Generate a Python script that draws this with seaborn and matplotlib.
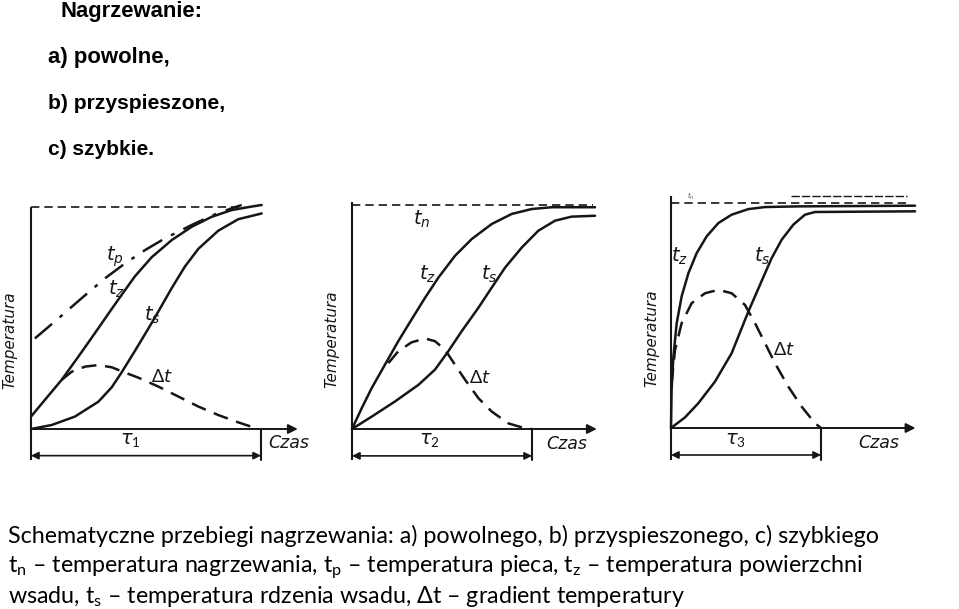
import numpy as np
import matplotlib
matplotlib.use("Agg")
import matplotlib.pyplot as plt
import seaborn as sns

sns.set_style("white")
plt.rcParams["font.family"] = ["Lato", "DejaVu Sans"]
plt.rcParams["mathtext.fontset"] = "custom"
plt.rcParams["mathtext.rm"] = "Lato"
plt.rcParams["mathtext.it"] = "DejaVu Sans:italic"

W, H = 959, 609
INK = "#161616"

# --- dane (x w jednostkach tau, y w jednostkach t_n) ---
# a) nagrzewanie powolne
a_tp_x = [0.017, 0.119, 0.220, 0.322, 0.409, 0.496, 0.583, 0.699, 0.786, 0.872, 0.916]
a_tp_y = [0.408, 0.498, 0.589, 0.679, 0.746, 0.806, 0.859, 0.919, 0.961, 0.994, 1.009]
a_tz_x = [0.0, 0.061, 0.133, 0.206, 0.278, 0.351, 0.394, 0.452, 0.525, 0.612, 0.699,
          0.786, 0.872, 0.959, 1.003]
a_tz_y = [0.056, 0.132, 0.221, 0.326, 0.432, 0.541, 0.604, 0.688, 0.774, 0.851, 0.911,
          0.956, 0.986, 1.002, 1.009]
a_ts_x = [0.0, 0.090, 0.191, 0.293, 0.351, 0.394, 0.452, 0.510, 0.554, 0.612, 0.670,
          0.728, 0.814, 0.901, 1.003]
a_ts_y = [0.0, 0.018, 0.056, 0.123, 0.188, 0.255, 0.352, 0.452, 0.530, 0.635, 0.733,
          0.812, 0.893, 0.945, 0.971]
a_dt_x = [0.133, 0.177, 0.235, 0.293, 0.351, 0.394, 0.467, 0.554, 0.641, 0.728, 0.814,
          0.901, 0.988]
a_dt_y = [0.221, 0.258, 0.281, 0.288, 0.278, 0.260, 0.231, 0.191, 0.146, 0.101, 0.063,
          0.030, 0.0]

# b) nagrzewanie przyspieszone
b_tz_x = [0.0, 0.054, 0.109, 0.183, 0.257, 0.331, 0.406, 0.480, 0.572, 0.665, 0.776,
          0.887, 0.998, 1.109, 1.350]
b_tz_y = [0.0, 0.093, 0.182, 0.287, 0.392, 0.489, 0.586, 0.676, 0.773, 0.848, 0.915,
          0.960, 0.982, 0.990, 0.990]
b_ts_x = [0.0, 0.109, 0.239, 0.369, 0.461, 0.535, 0.609, 0.702, 0.776, 0.850, 0.943,
          1.035, 1.128, 1.220, 1.350]
b_ts_y = [0.0, 0.055, 0.123, 0.197, 0.265, 0.347, 0.436, 0.541, 0.631, 0.720, 0.810,
          0.885, 0.930, 0.948, 0.952]
b_dt_x = [0.202, 0.257, 0.331, 0.406, 0.461, 0.517, 0.572, 0.628, 0.702, 0.776, 0.869,
          0.961, 1.0]
b_dt_y = [0.294, 0.347, 0.387, 0.404, 0.392, 0.354, 0.287, 0.220, 0.138, 0.078, 0.025,
          0.003, 0.0]

# c) nagrzewanie szybkie
c_tz_x = [0.0, 0.004, 0.016, 0.038, 0.071, 0.116, 0.171, 0.238, 0.316, 0.404, 0.516,
          0.627, 0.849, 1.627]
c_tz_y = [0.0, 0.169, 0.318, 0.466, 0.585, 0.688, 0.777, 0.852, 0.911, 0.948, 0.973,
          0.982, 0.985, 0.988]
c_ts_x = [0.0, 0.093, 0.182, 0.293, 0.404, 0.516, 0.593, 0.671, 0.738, 0.816, 0.893,
          0.960, 1.627]
c_ts_y = [0.0, 0.047, 0.110, 0.206, 0.332, 0.518, 0.636, 0.755, 0.837, 0.904, 0.948,
          0.960, 0.963]
c_dt_x = [0.004, 0.027, 0.071, 0.138, 0.227, 0.316, 0.404, 0.493, 0.560, 0.627, 0.693,
          0.782, 0.871, 0.960, 1.0]
c_dt_y = [0.199, 0.347, 0.466, 0.555, 0.599, 0.614, 0.599, 0.547, 0.466, 0.377, 0.288,
          0.184, 0.095, 0.021, 0.0]

tau_labels = [r"$\tau_1$", r"$\tau_2$", r"$\tau_3$"]

title_lines = ["Nagrzewanie:", "a) powolne,", "b) przyspieszone,", "c) szybkie."]
caption_lines = [
    "Schematyczne przebiegi nagrzewania: a) powolnego, b) przyspieszonego, c) szybkiego",
    r"t$_\mathregular{n}$ – temperatura nagrzewania, t$_\mathregular{p}$ – temperatura pieca, "
    r"t$_\mathregular{z}$ – temperatura powierzchni",
    r"wsadu, t$_\mathregular{s}$ – temperatura rdzenia wsadu, Δt – gradient temperatury",
]

fig = plt.figure(figsize=(W / 100, H / 100), dpi=100)
fig.patch.set_facecolor("white")


def make_ax(x0, y0, xu, yu, xhi):
    xlo, ylo, yhi = -0.35, -0.3, 1.12
    rect = [(x0 + xlo * xu) / W, 1 - (y0 - ylo * yu) / H,
            (xhi - xlo) * xu / W, (yhi - ylo) * yu / H]
    ax = fig.add_axes(rect)
    ax.set_xlim(xlo, xhi)
    ax.set_ylim(ylo, yhi)
    ax.axis("off")
    return ax


def curve(ax, xs, ys, dashes=None, lw=1.8):
    sns.lineplot(x=xs, y=ys, ax=ax, color=INK, lw=lw, sort=False, estimator=None)
    ax.lines[-1].set_solid_joinstyle("round")
    if dashes is not None:
        ax.lines[-1].set_dashes(dashes)


def frame(ax, arrow_end, tn_end, top, tau_lab, czas_x):
    ax.plot([0, 0], [-0.14, top], color=INK, lw=1.5, solid_capstyle="butt")
    ax.plot([0, tn_end], [1, 1], color=INK, lw=1.2, dashes=(5, 3))
    ax.annotate("", xy=(arrow_end, 0), xytext=(0, 0),
                arrowprops=dict(arrowstyle="-|>", color=INK, lw=1.4,
                                mutation_scale=14, shrinkA=0, shrinkB=0))
    ax.plot([1, 1], [0, -0.14], color=INK, lw=1.5)
    ax.annotate("", xy=(1, -0.12), xytext=(0, -0.12),
                arrowprops=dict(arrowstyle="<|-|>", color=INK, lw=1.2,
                                mutation_scale=11, shrinkA=0, shrinkB=0))
    ax.text(0.43, -0.055, tau_lab, ha="center", va="center", fontsize=14, color=INK)
    ax.text(czas_x, -0.065, "Czas", ha="left", va="center", fontsize=12.5,
            style="italic", family="DejaVu Sans", color=INK)


def lab(ax, x, y, s, size=14):
    ax.text(x, y, s, ha="center", va="center", fontsize=size, color=INK)


def ylab(ax, x):
    ax.text(x, 0.4, "Temperatura", rotation=90, ha="center", va="center",
            fontsize=11, style="italic", family="DejaVu Sans", color=INK)


# a)
ax1 = make_ax(31, 429, 230, 222, 1.3)
frame(ax1, 1.16, 0.93, 1.0, tau_labels[0], 1.03)
curve(ax1, a_tp_x, a_tp_y, dashes=(9, 4, 1.5, 4))
curve(ax1, a_tz_x, a_tz_y)
curve(ax1, a_ts_x, a_ts_y)
curve(ax1, a_dt_x, a_dt_y, dashes=(6, 3.5))
lab(ax1, 0.365, 0.776, r"$t_p$")
lab(ax1, 0.37, 0.63, r"$t_z$")
lab(ax1, 0.525, 0.51, r"$t_s$")
lab(ax1, 0.57, 0.235, r"$\Delta t$", 13)
ylab(ax1, -0.09)

# b)
ax2 = make_ax(352, 429, 180, 224, 1.45)
frame(ax2, 1.36, 1.34, 1.015, tau_labels[1], 1.08)
curve(ax2, b_tz_x, b_tz_y)
curve(ax2, b_ts_x, b_ts_y)
curve(ax2, b_dt_x, b_dt_y, dashes=(6, 3.5))
lab(ax2, 0.387, 0.935, r"$t_n$")
lab(ax2, 0.42, 0.69, r"$t_z$")
lab(ax2, 0.765, 0.69, r"$t_s$")
lab(ax2, 0.71, 0.23, r"$\Delta t$", 13)
ylab(ax2, -0.11)

# c)
ax3 = make_ax(671, 428, 150, 225, 1.75)
frame(ax3, 1.63, 1.57, 1.03, tau_labels[2], 1.25)
ax3.plot([0.80, 1.57], [1.03, 1.03], color=INK, lw=1.0, dashes=(6, 1.5))
ax3.text(0.13, 1.03, r"$t_n$", ha="center", va="center", fontsize=5, color="#555555")
curve(ax3, c_tz_x, c_tz_y)
curve(ax3, c_ts_x, c_ts_y)
curve(ax3, c_dt_x, c_dt_y, dashes=(6, 3.5))
lab(ax3, 0.06, 0.765, r"$t_z$")
lab(ax3, 0.605, 0.765, r"$t_s$")
lab(ax3, 0.75, 0.35, r"$\Delta t$", 13)
ylab(ax3, -0.13)

# teksty slajdu
fig.canvas.draw()
rend = fig.canvas.get_renderer()


def fit(t, target):
    bb = t.get_window_extent(rend)
    t.set_fontsize(t.get_fontsize() * target / bb.width)


title_x = [60, 48, 48, 48]
title_base = [17, 63, 109, 155]
title_w = [142, 122, 178, 106]
for s, x, y, w in zip(title_lines, title_x, title_base, title_w):
    t = fig.text(x / W, 1 - y / H, s, ha="left", va="baseline", fontsize=14,
                 family="Liberation Sans", weight="bold", color="black")
    fit(t, w)

cap_base = [543, 573, 603]
cap = []
for s, y in zip(caption_lines, cap_base):
    cap.append(fig.text(8 / W, 1 - y / H, s, ha="left", va="baseline",
                        fontsize=16, color="black"))
fit(cap[0], 874)
for t in cap[1:]:
    t.set_fontsize(cap[0].get_fontsize())

fig.savefig("out.png", dpi=100, facecolor="white")
